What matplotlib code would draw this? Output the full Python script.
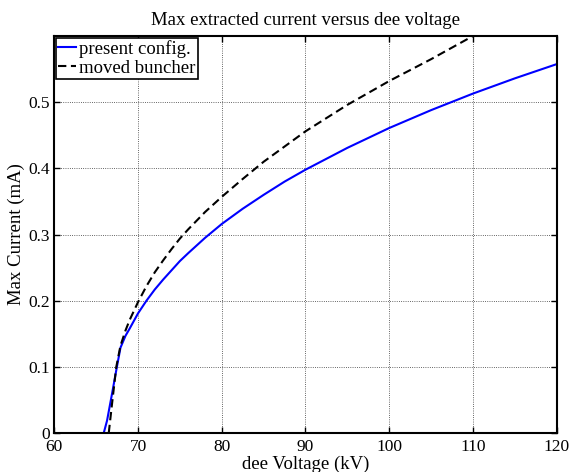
import numpy as np
import matplotlib.pyplot as plt

# values
v_present = [64.9, 65.9, 66.3, 66.9, 67.4, 67.9, 68.5, 69, 70, 71, 72, 73, 74, 75, 76,
             78, 80, 82.5, 85, 87.5, 90, 95, 100, 105, 110, 115, 120]
i_present = [0, 0, 0.019, 0.06, 0.095, 0.129, 0.147, 0.158, 0.181, 0.200, 0.217, 0.232,
             0.246, 0.260, 0.272, 0.295, 0.316, 0.339, 0.360, 0.380, 0.398, 0.431,
             0.461, 0.488, 0.513, 0.536, 0.5575]

v_moved = [66.5, 66.9, 67.4, 67.9, 68.5, 69, 70, 71, 72, 73, 74, 75, 76, 78, 80, 82.5,
           85, 87.5, 90, 95, 100, 105, 110]
i_moved = [0, 0.045, 0.1, 0.132, 0.155, 0.171, 0.198, 0.222, 0.243, 0.261, 0.278, 0.294,
           0.308, 0.334, 0.357, 0.384, 0.410, 0.433, 0.456, 0.496, 0.532, 0.565, 0.6]

xticks = [60, 70, 80, 90, 100, 110, 120]
yticks = [0, 0.1, 0.2, 0.3, 0.4, 0.5]

plt.rcParams['font.family'] = ['Liberation Serif', 'DejaVu Serif']

fig = plt.figure(figsize=(5.73, 4.72), dpi=100)
ax = fig.add_axes([0.0948, 0.0824, 0.8767, 0.8413])

ax.plot(v_present, i_present, color='#0000ff', lw=1.5, label='present config.')
ax.plot(v_moved, i_moved, color='black', lw=1.5, ls=(0, (4, 2.2)), label='moved buncher')

ax.set_xlim(60, 120)
ax.set_ylim(0, 0.6)
ax.set_xticks(xticks)
ax.set_yticks(yticks)
ax.set_xticklabels([str(t) for t in xticks])
ax.set_yticklabels(['0', '0.1', '0.2', '0.3', '0.4', '0.5'])

ax.grid(True, ls=':', color='black', lw=0.6, alpha=0.8)
ax.tick_params(direction='in', length=4, width=1, labelsize=12.5, top=True, right=True)
ax.tick_params(axis='x', pad=4.5)
ax.tick_params(axis='y', pad=3)
for s in ax.spines.values():
    s.set_linewidth(1.5)

ax.set_title('Max extracted current versus dee voltage', fontsize=13.5, pad=8)
ax.set_xlabel('dee Voltage (kV)', fontsize=13.5, va='baseline')
ax.xaxis.set_label_coords(0.5, -0.089)
ax.set_ylabel('Max Current (mA)', fontsize=13.5, va='center')
ax.yaxis.set_label_coords(-0.076, 0.5)

leg = ax.legend(loc='upper left', fontsize=13.5, handlelength=0.95, handletextpad=0.15,
                borderpad=0.12, labelspacing=0.1, borderaxespad=0.1, fancybox=False,
                framealpha=1)
leg.get_frame().set_edgecolor('black')
leg.get_frame().set_linewidth(1.2)

fig.savefig('out.png', dpi=100)
